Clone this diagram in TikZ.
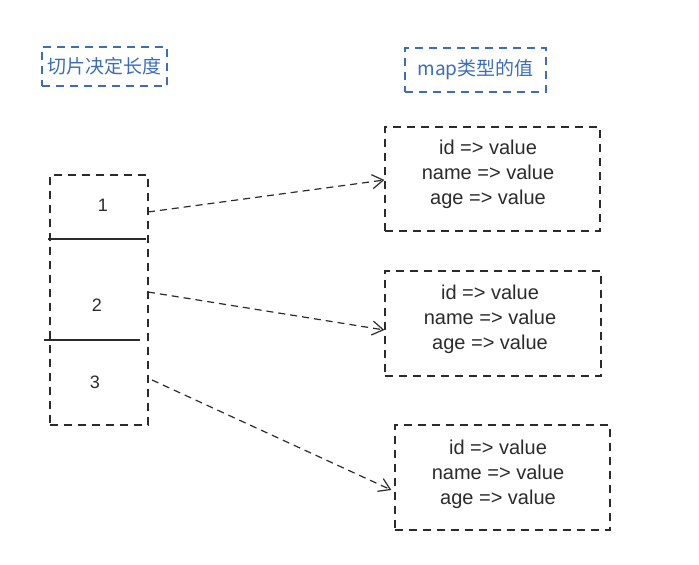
\documentclass[tikz,border=0pt]{standalone}
\usepackage{fontspec}
\setmainfont{Liberation Sans}
\newfontfamily\cjk{Noto Sans CJK SC}
\usetikzlibrary{arrows.meta}
\definecolor{sketchblue}{HTML}{3E6DB5}
\definecolor{ink}{HTML}{2B2B2B}
\tikzset{
  x=1pt,y=-1pt,
  dashbox/.style={draw=ink,line width=1.3pt,dash pattern=on 8pt off 6pt,inner sep=0pt},
  bluebox/.style={draw=sketchblue,line width=1.3pt,dash pattern=on 8pt off 6pt,text=sketchblue,font=\cjk\fontsize{19}{22}\selectfont,inner sep=0pt},
  maptext/.style={align=center,font=\fontsize{20}{25}\selectfont,text=ink,inner sep=0pt},
  celltext/.style={font=\fontsize{18}{20}\selectfont,text=ink,inner sep=0pt},
  link/.style={draw=ink,line width=1.2pt,dash pattern=on 7pt off 5pt,-{Straight Barb[length=11pt,width=14pt]}},
  divider/.style={draw=ink,line width=1.3pt}
}
\begin{document}
\begin{tikzpicture}
\useasboundingbox (0,0) rectangle (699,565);
% titles
\node[bluebox,minimum width=125pt,minimum height=39pt] (t1) at (104.5,66.5) {切片决定长度};
\node[bluebox,minimum width=141pt,minimum height=44pt] (t2) at (475.5,70) {map类型的值};
% slice column
\node[dashbox,minimum width=98pt,minimum height=250pt] (slice) at (99,300) {};
\node[celltext] (c1) at (103,205) {1};
\node[celltext] (c2) at (97,305) {2};
\node[celltext] (c3) at (95,382) {3};
\coordinate (d1a) at (48,239);
\coordinate (d1b) at (146,239);
\coordinate (d2a) at (44,340);
\coordinate (d2b) at (140,340);
\draw[divider] (d1a) -- (d1b);
\draw[divider] (d2a) -- (d2b);
% map boxes
\node[dashbox,minimum width=215pt,minimum height=104pt] (m1) at (492.5,179) {};
\node[maptext] (m1t) at (488,174) {id => value\\name => value\\age => value};
\node[dashbox,minimum width=216pt,minimum height=105pt] (m2) at (493,323.5) {};
\node[maptext] (m2t) at (490,319) {id => value\\name => value\\age => value};
\node[dashbox,minimum width=215pt,minimum height=105pt] (m3) at (502.5,477.5) {};
\node[maptext] (m3t) at (498,474) {id => value\\name => value\\age => value};
% links
\coordinate (s1) at (148,212);
\coordinate (s2) at (148,292);
\coordinate (s3) at (152,380);
\draw[link] (s1) -- ([yshift=-1pt]m1.west);
\draw[link] (s2) -- ([yshift=-6.5pt]m2.west);
\draw[link] (s3) -- ([xshift=-3pt,yshift=-12.5pt]m3.west);
\end{tikzpicture}
\end{document}
